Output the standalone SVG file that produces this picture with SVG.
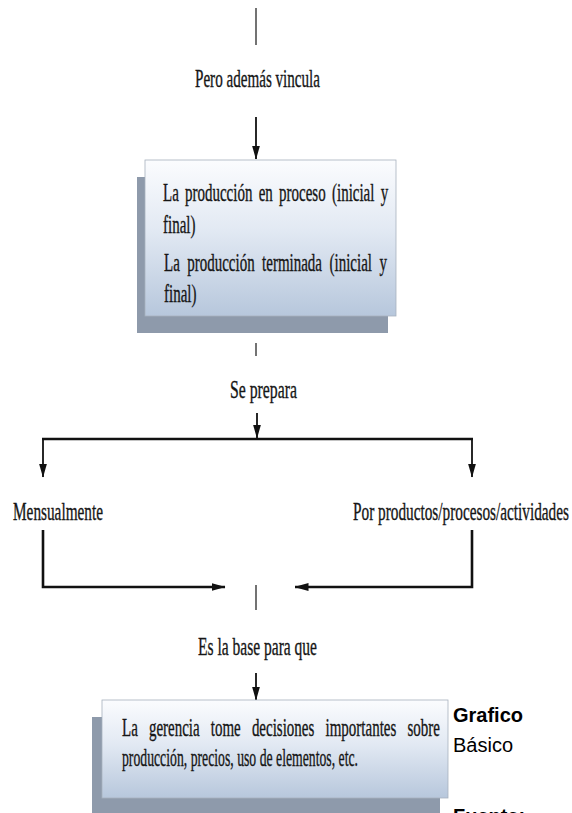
<svg xmlns="http://www.w3.org/2000/svg" width="572" height="813" viewBox="0 0 572 813">
  <defs>
    <linearGradient id="boxFill" x1="0" y1="0" x2="0" y2="1">
      <stop offset="0" stop-color="#fbfcfe"/>
      <stop offset="0.45" stop-color="#e2e9f3"/>
      <stop offset="1" stop-color="#b7c7dc"/>
    </linearGradient>
    <marker id="arrow" markerUnits="userSpaceOnUse" viewBox="0 0 14 10" markerWidth="14" markerHeight="10" refX="13.5" refY="5" orient="auto">
      <path d="M0,1 L14,5 L0,9 z" fill="#111"/>
    </marker>
  </defs>
  <style>
    .lbl { font-family: "Liberation Serif", "Times New Roman", serif; font-size: 25px; fill: #161616; stroke: #161616; stroke-width: 0.35; }
    .cap { font-family: "Liberation Sans", Arial, sans-serif; font-size: 20px; fill: #000; }
    .bold { font-weight: bold; }
    .thin { stroke: #444; stroke-width: 1.5; fill: none; }
    .flow { stroke: #111; stroke-width: 1.8; fill: none; }
    .heavy { stroke: #111; stroke-width: 2.6; fill: none; }
    .shadow { fill: #8e9aab; }
    .box { fill: url(#boxFill); stroke: #a7b1bd; stroke-width: 0.8; }
  </style>

  <rect width="572" height="813" fill="#ffffff"/>

  <!-- connectors -->
  <g id="connectors">
    <line class="thin" x1="256" y1="8" x2="256" y2="45"/>
    <line class="flow" x1="256" y1="117" x2="256" y2="159" marker-end="url(#arrow)"/>
    <line class="thin" x1="256" y1="343" x2="256" y2="356"/>
    <line class="flow" x1="257" y1="413" x2="257" y2="438" marker-end="url(#arrow)"/>
    <line class="heavy" x1="42" y1="439" x2="473" y2="439"/>
    <line class="flow" x1="43" y1="439" x2="43" y2="477" marker-end="url(#arrow)"/>
    <line class="flow" x1="472" y1="439" x2="472" y2="477" marker-end="url(#arrow)"/>
    <polyline class="heavy" points="43,530 43,587 225,587" marker-end="url(#arrow)"/>
    <polyline class="heavy" points="472,530 472,587 295,587" marker-end="url(#arrow)"/>
    <line class="thin" x1="256" y1="585" x2="256" y2="610"/>
    <line class="flow" x1="256" y1="673" x2="256" y2="700" marker-end="url(#arrow)"/>
  </g>

  <g id="label-vincula">
    <text class="lbl" x="195" y="87" textLength="125" lengthAdjust="spacingAndGlyphs">Pero además vincula</text>
  </g>

  <g id="box-produccion">
    <rect class="shadow" x="137" y="177" width="251" height="156"/>
    <rect class="box" x="145" y="160" width="251" height="156"/>
    <!-- narrow serif: lines drawn at 60% width, justified word by word -->
    <g transform="scale(0.6 1)">
      <text class="lbl" y="201"><tspan x="271.7">La</tspan><tspan x="308.3">producción</tspan><tspan x="431.2">en</tspan><tspan x="465">proceso</tspan><tspan x="553.3">(inicial</tspan><tspan x="634.5">y</tspan></text>
      <text class="lbl" x="271.7" y="233">final)</text>
      <text class="lbl" y="271"><tspan x="273.3">La</tspan><tspan x="312">producción</tspan><tspan x="436.8">terminada</tspan><tspan x="549.2">(inicial</tspan><tspan x="632.3">y</tspan></text>
      <text class="lbl" x="273.3" y="302">final)</text>
    </g>
  </g>

  <g id="label-prepara">
    <text class="lbl" x="230" y="398" textLength="67" lengthAdjust="spacingAndGlyphs">Se prepara</text>
  </g>

  <g id="label-mensual">
    <text class="lbl" x="13" y="520" textLength="90" lengthAdjust="spacingAndGlyphs">Mensualmente</text>
  </g>

  <g id="label-productos">
    <text class="lbl" x="353" y="520" textLength="216" lengthAdjust="spacingAndGlyphs">Por productos/procesos/actividades</text>
  </g>

  <g id="label-base">
    <text class="lbl" x="198" y="655" textLength="119" lengthAdjust="spacingAndGlyphs">Es la base para que</text>
  </g>

  <g id="box-gerencia">
    <rect class="shadow" x="92" y="717" width="348" height="110"/>
    <rect class="box" x="102" y="700" width="346" height="98"/>
    <g transform="scale(0.6 1)">
      <text class="lbl" y="736"><tspan x="203.3">La</tspan><tspan x="248.2">gerencia</tspan><tspan x="351.3">tome</tspan><tspan x="419.8">decisiones</tspan><tspan x="542.5">importantes</tspan><tspan x="679">sobre</tspan></text>
    </g>
    <text class="lbl" x="122" y="766" textLength="236" lengthAdjust="spacingAndGlyphs">producción, precios, uso de elementos, etc.</text>
  </g>

  <g id="caption">
    <text class="cap bold" x="453" y="722">Grafico</text>
    <text class="cap" x="453" y="752">Básico</text>
    <text class="cap bold" x="453" y="823">Fuente:</text>
  </g>
</svg>
